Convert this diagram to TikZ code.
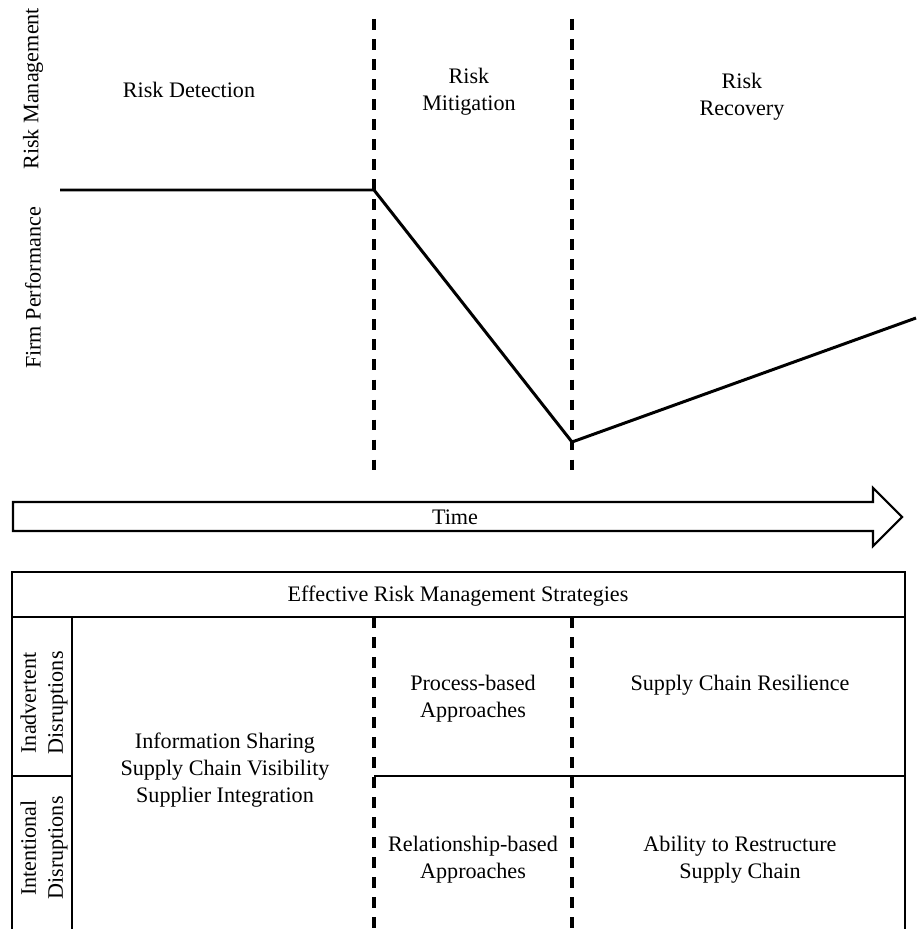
\documentclass[tikz,border=0pt]{standalone}
\usepackage{fontspec}
\setmainfont{Liberation Serif}
\usetikzlibrary{positioning}

\begin{document}
\begin{tikzpicture}[x=0.02cm, y=-0.02cm, font=\fontsize{12.6}{15.3}\selectfont,
  perf/.style={line width=1.7pt},
  phase/.style={line width=2pt, dash pattern=on 6pt off 5.4pt},
  frame/.style={line width=1.2pt},
  lbl/.style={align=center, inner sep=0pt}]
\useasboundingbox (0,0) rectangle (916,929);
% phase borders
\foreach \x in {374,572} {
  \draw[phase] (\x,19) -- (\x,477);
  \draw[phase] (\x,617) -- (\x,929);
}
% performance curve
\coordinate (p0) at (60,190);
\coordinate (p1) at (374,190);
\coordinate (p2) at (572,442);
\coordinate (p3) at (916,318);
\draw[perf] (p0) -- (p1) -- (p2) -- (p3);
\node[lbl, rotate=90, anchor=west] (rm) at (33,170) {Risk Management};
\node[lbl, rotate=90] (fp) at (33,288) {Firm Performance};
\node[lbl] (detect) at (189,90) {Risk Detection};
\node[lbl] (mitig) at (469,92) {Risk\\Mitigation};
\node[lbl] (recov) at (742,97) {Risk\\Recovery};
% time arrow
\draw[frame] (13,502) -- (873,502) -- (873,488) -- (902,517) -- (873,546)
  -- (873,531) -- (13,531) -- cycle;
\node[lbl] (time) at (455,517) {Time};
% strategies table
\draw[frame] (12,929) -- (12,572) -- (905,572) -- (905,929);
\draw[frame] (12,617) -- (905,617);
\draw[frame] (72,617) -- (72,929);
\draw[frame] (12,776) -- (72,776);
\draw[frame] (374,776) -- (905,776);
\node[lbl] (strat) at (458,596) {Effective Risk Management Strategies};
\node[lbl, rotate=90] (inadv) at (44,703) {Inadvertent\\Disruptions};
\node[lbl, rotate=90] (intent) at (44,848) {Intentional\\Disruptions};
\node[lbl] (info) at (225,770) {Information Sharing\\Supply Chain Visibility\\Supplier Integration};
\node[lbl] (proc) at (473,699) {Process-based\\Approaches};
\node[lbl] (resil) at (740,685) {Supply Chain Resilience};
\node[lbl] (relat) at (473,860) {Relationship-based\\Approaches};
\node[lbl] (restr) at (740,860) {Ability to Restructure\\Supply Chain};
\end{tikzpicture}
\end{document}
